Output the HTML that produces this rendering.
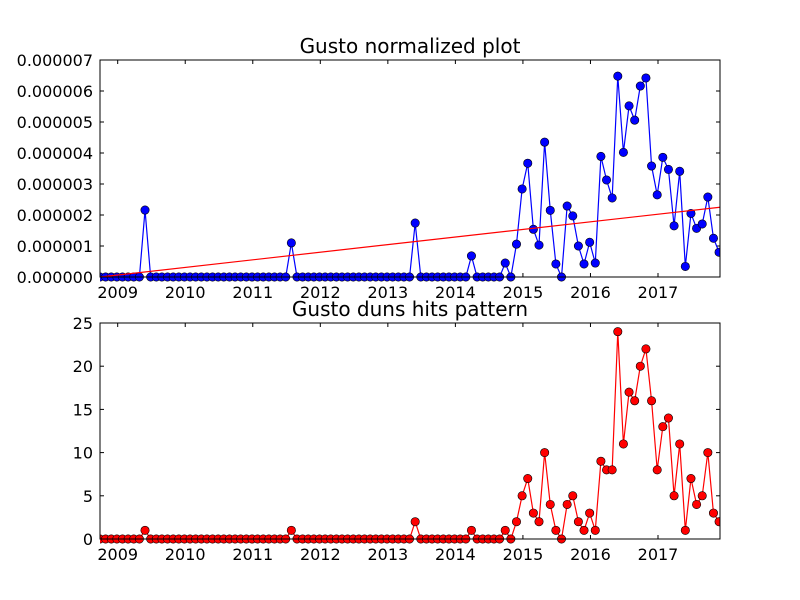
<!DOCTYPE html>
<html><head><meta charset="utf-8"><style>
html,body{margin:0;padding:0;background:#fff;}
svg{display:block;font-family:"DejaVu Sans","Liberation Sans",sans-serif;}
</style></head><body>
<svg id="chart" width="800" height="600" viewBox="0 0 800 600"></svg>
<script>
// ---- data ----
const startYear = 2008.738;           // first monthly sample
const endYear = 2017.918;             // axis right limit
const yearTicks = [2009,2010,2011,2012,2013,2014,2015,2016,2017];
const hits = [0,0,0,0,0,0,0,0,1,0, 0,0,0,0,0,0,0,0,0,0, 0,0,0,0,0,0,0,0,0,0, 0,0,0,0,1,0,0,0,0,0,
  0,0,0,0,0,0,0,0,0,0, 0,0,0,0,0,0,2,0,0,0, 0,0,0,0,0,0,1,0,0,0,
  0,0,1,0,2,5,7,3,2,10, 4,1,0,4,5,2,1,3,1,9, 8,8,24,11,17,16,20,22,16,8, 13,14,5,11,1,7,4,5,10,3, 2];
const normalized = [0,0,0,0,0,0,0,0,2.16,0, 0,0,0,0,0,0,0,0,0,0, 0,0,0,0,0,0,0,0,0,0, 0,0,0,0,1.10,0,0,0,0,0,
  0,0,0,0,0,0,0,0,0,0, 0,0,0,0,0,0,1.74,0,0,0, 0,0,0,0,0,0,0.68,0,0,0,
  0,0,0.45,0,1.06,2.84,3.67,1.54,1.03,4.35, 2.15,0.42,0,2.29,1.97,1.0,0.42,1.12,0.45,3.89,
  3.13,2.55,6.48,4.02,5.52,5.06,6.16,6.42,3.58,2.65, 3.86,3.47,1.65,3.41,0.34,2.05,1.57,1.71,2.58,1.25, 0.80]; // x1e-6
const trend = [0, 2.25]; // x1e-6 at axis start / end
const topTicks = [0,1,2,3,4,5,6,7];
const topTickLabels = ["0.000000","0.000001","0.000002","0.000003","0.000004","0.000005","0.000006","0.000007"];
const bottomTicks = [0,5,10,15,20,25];

const NS="http://www.w3.org/2000/svg";
const svg=document.getElementById('chart');
function mk(tag,attrs,parent){const e=document.createElementNS(NS,tag);for(const k in attrs)e.setAttribute(k,attrs[k]);(parent||svg).appendChild(e);return e;}
const L=100,R=720;
function xScale(t){return L+(t-startYear)/(endYear-startYear)*(R-L);}
function tOf(i){return startYear+i/12;}

function panel(top,bottom,ymax,ticks,labels,series,color,title,name){
  const g=mk('g',{});
  
  
  const ys=v=>bottom-(v/ymax)*(bottom-top);
  const t=mk('text',{x:410,y:top-7,'text-anchor':'middle','font-size':20,fill:'#000'},g);
  t.textContent=title;
  
  
  yearTicks.forEach(yr=>{
    const x=xScale(yr);
    mk('line',{x1:x,x2:x,y1:bottom,y2:bottom-4,stroke:'#000','stroke-width':1},g);
    mk('line',{x1:x,x2:x,y1:top,y2:top+4,stroke:'#000','stroke-width':1},g);
    const lb=mk('text',{x:x,y:bottom+21,'text-anchor':'middle','font-size':16},g);
    lb.textContent=yr;
    
    
  });
  ticks.forEach((v,i)=>{
    const y=ys(v);
    mk('line',{x1:L,x2:L+4,y1:y,y2:y,stroke:'#000'},g);
    mk('line',{x1:R,x2:R-4,y1:y,y2:y,stroke:'#000'},g);
    const lb=mk('text',{x:93,y:y+6,'text-anchor':'end','font-size':16},g);
    lb.textContent=labels[i];
    
    
  });
  const cp='clip-'+name;
  const c=mk('clipPath',{id:cp},g);mk('rect',{x:L,y:top-6,width:R-L,height:bottom-top+12},c);
  const sg=mk('g',{'clip-path':'url(#'+cp+')'},g);
  const pts=series.map((v,i)=>xScale(tOf(i)).toFixed(2)+','+ys(v).toFixed(2)).join(' ');
  const pl=mk('polyline',{points:pts,fill:'none',stroke:color,'stroke-width':1.2},sg);
  
  
  series.forEach((v,i)=>{
    const p=mk('circle',{cx:xScale(tOf(i)),cy:ys(v),r:4.2,fill:color,stroke:'#000','stroke-width':0.6},sg);
    
    
  });
  mk('rect',{x:L,y:top,width:R-L,height:bottom-top,fill:'none',stroke:'#000','stroke-width':1},g);
  return {sg,ys};
}
const p1=panel(60,277,7,topTicks,topTickLabels,normalized,'#0000ff','Gusto normalized plot','top-panel');
const tl=mk('line',{x1:L,y1:p1.ys(trend[0]),x2:R,y2:p1.ys(trend[1]),stroke:'#ff0000','stroke-width':1.2},p1.sg);


panel(323,539,25,bottomTicks,bottomTicks.map(String),hits,'#ff0000','Gusto duns hits pattern','bottom-panel');
</script>
</body></html>
